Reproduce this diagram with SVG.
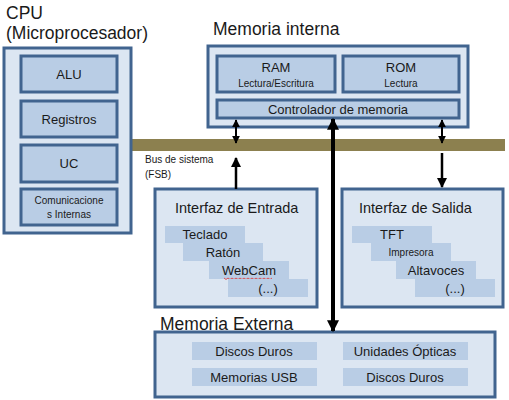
<svg xmlns="http://www.w3.org/2000/svg" width="509" height="400" viewBox="0 0 509 400">
<defs>
<style>
.outer{fill:#dce6f2;stroke:#41648f;stroke-width:3}
.inner{fill:#b9cde5;stroke:#41648f;stroke-width:3}
.item{fill:#b9cde5}
text{font-family:"Liberation Sans",Arial,sans-serif;fill:#1a1a1a}
.title{font-size:17.5px}
.sub{font-size:14.5px}
.lbl{font-size:13px;text-anchor:middle}
.sm{font-size:10px;text-anchor:middle}
.ar{stroke:#000;fill:none}
</style>
<marker id="ah" viewBox="0 0 10 10" refX="9" refY="5" markerWidth="4" markerHeight="4" orient="auto-start-reverse" markerUnits="strokeWidth"><path d="M0,0 L10,5 L0,10 z" fill="#000"/></marker>
<marker id="ahb" viewBox="0 0 10 10" refX="9" refY="5" markerWidth="3.4" markerHeight="3" orient="auto-start-reverse" markerUnits="strokeWidth"><path d="M0,0 L10,5 L0,10 z" fill="#000"/></marker>
</defs>
<rect width="509" height="400" fill="#fff"/>

<g id="bus">
<rect x="130" y="139" width="375" height="12" fill="#8c804f"/>
<text x="145" y="163" font-size="10">Bus de sistema</text>
<text x="145" y="178" font-size="10">(FSB)</text>
</g>

<g id="cpu">
<text class="title" x="6" y="19">CPU</text>
<text class="title" x="6" y="39">(Microprocesador)</text>
<rect class="outer" x="4" y="48" width="127" height="185"/>
<rect class="inner" x="21" y="56" width="96" height="36"/>
<text class="lbl" x="69" y="79">ALU</text>
<rect class="inner" x="21" y="101" width="96" height="36"/>
<text class="lbl" x="69" y="124">Registros</text>
<rect class="inner" x="21" y="145" width="96" height="37"/>
<text class="lbl" x="69" y="168">UC</text>
<rect class="inner" x="21" y="189" width="96" height="36"/>
<text class="sm" x="69" y="204">Comunicacione</text>
<text class="sm" x="69" y="218">s Internas</text>
</g>

<g id="memoria-interna">
<text class="title" x="213" y="35">Memoria interna</text>
<rect class="outer" x="208" y="46" width="260" height="81"/>
<rect class="inner" x="217" y="56" width="118" height="36"/>
<text class="lbl" x="276" y="72">RAM</text>
<text class="sm" x="276" y="87">Lectura/Escritura</text>
<rect class="inner" x="343" y="56" width="116" height="36"/>
<text class="lbl" x="401" y="72">ROM</text>
<text class="sm" x="401" y="87">Lectura</text>
<rect class="inner" x="217" y="100" width="242" height="18"/>
<text class="lbl" x="338" y="114" font-size="12.5">Controlador de memoria</text>
</g>

<g id="interfaz-entrada">
<rect class="outer" x="155" y="189" width="162" height="118"/>
<text class="sub" x="175" y="213">Interfaz de Entrada</text>
<rect class="item" x="165" y="226" width="80" height="17"/>
<text class="lbl" x="205" y="239" font-size="12">Teclado</text>
<rect class="item" x="183" y="243" width="80" height="18"/>
<text class="lbl" x="223" y="257" font-size="12">Ratón</text>
<rect class="item" x="209" y="261" width="80" height="18"/>
<text class="lbl" x="249" y="275" font-size="12">WebCam</text>
<path d="M224,278 l2,1.5 l2,-1.5 l2,1.5 l2,-1.5 l2,1.5 l2,-1.5 l2,1.5 l2,-1.5 l2,1.5 l2,-1.5 l2,1.5 l2,-1.5 l2,1.5 l2,-1.5 l2,1.5 l2,-1.5 l2,1.5 l2,-1.5 l2,1.5 l2,-1.5 l2,1.5 l2,-1.5 l2,1.5 l2,-1.5" fill="none" stroke="#e03030" stroke-width="0.8"/>
<rect class="item" x="228" y="279" width="80" height="18"/>
<text class="lbl" x="268" y="293" font-size="12">(...)</text>
</g>

<g id="interfaz-salida">
<rect class="outer" x="342" y="189" width="161" height="118"/>
<text class="sub" x="359" y="213">Interfaz de Salida</text>
<rect class="item" x="352" y="226" width="80" height="17"/>
<text class="lbl" x="392" y="239" font-size="12">TFT</text>
<rect class="item" x="371" y="243" width="80" height="18"/>
<text class="sm" x="411" y="256">Impresora</text>
<rect class="item" x="396" y="261" width="80" height="18"/>
<text class="lbl" x="436" y="275" font-size="12">Altavoces</text>
<rect class="item" x="415" y="279" width="80" height="18"/>
<text class="lbl" x="455" y="293" font-size="12">(...)</text>
</g>

<g id="memoria-externa">
<text class="title" x="160" y="330">Memoria Externa</text>
<rect class="outer" x="155" y="332" width="340" height="65"/>
<rect class="item" x="192" y="342" width="125" height="18"/>
<text class="lbl" x="254" y="356" font-size="12">Discos Duros</text>
<rect class="item" x="343" y="342" width="125" height="18"/>
<text class="lbl" x="405" y="356" font-size="12">Unidades Ópticas</text>
<rect class="item" x="192" y="368" width="125" height="18"/>
<text class="lbl" x="254" y="382" font-size="12">Memorias USB</text>
<rect class="item" x="343" y="368" width="125" height="18"/>
<text class="lbl" x="405" y="382" font-size="12">Discos Duros</text>
</g>

<g id="connectors">
<line class="ar" x1="236" y1="120" x2="236" y2="143" stroke-width="2" marker-start="url(#ah)" marker-end="url(#ah)"/>
<line class="ar" x1="442" y1="120" x2="442" y2="143" stroke-width="2" marker-start="url(#ah)" marker-end="url(#ah)"/>
<line class="ar" x1="236" y1="189" x2="236" y2="158" stroke-width="2.5" marker-end="url(#ah)"/>
<line class="ar" x1="442" y1="153" x2="442" y2="187" stroke-width="2.5" marker-end="url(#ah)"/>
<line class="ar" x1="333" y1="119" x2="333" y2="331" stroke-width="4" marker-start="url(#ahb)" marker-end="url(#ahb)"/>
</g>
</svg>
